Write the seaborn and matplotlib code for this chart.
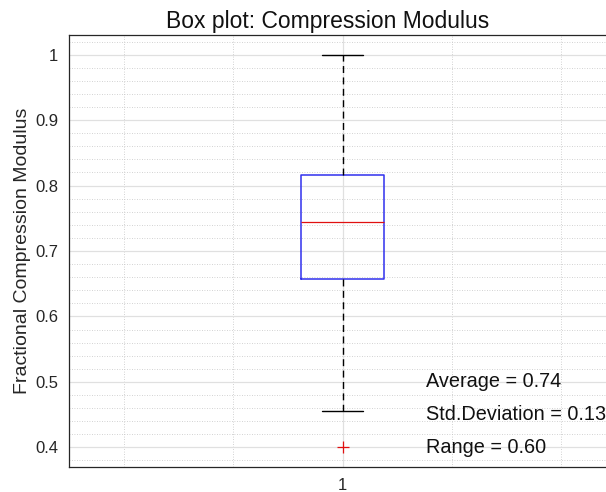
import numpy as np
import pandas as pd
import matplotlib
matplotlib.use("Agg")
import matplotlib.pyplot as plt
from matplotlib.ticker import MultipleLocator, FixedLocator
import seaborn as sns

# Fractional compression modulus measurements (one group)
group_labels = ["1"]
modulus = [0.400, 0.455, 0.610, 0.635, 0.645, 0.652, 0.657, 0.700, 0.715,
           0.725, 0.735, 0.742, 0.744, 0.770, 0.785, 0.795, 0.805, 0.812,
           0.816, 0.825, 0.840, 0.860, 0.870, 0.900, 1.000]
y_tick_values = [0.4, 0.5, 0.6, 0.7, 0.8, 0.9, 1.0]

df = pd.DataFrame({"group": group_labels * len(modulus), "value": modulus})

sns.set_style("white")
plt.rcParams["font.family"] = ["Liberation Sans", "DejaVu Sans"]

fig = plt.figure(figsize=(6.06, 4.92), dpi=100)
ax = fig.add_axes([69.3 / 606, 25 / 492, 546.4 / 606, 432 / 492])

sns.boxplot(
    data=df, x="group", y="value", ax=ax, fill=False, width=0.152,
    whis=1.5,
    boxprops=dict(color="#3030ee", linewidth=1.1),
    medianprops=dict(color="#e01010", linewidth=0.9),
    whiskerprops=dict(color="black", linewidth=1.0, linestyle=(0, (5, 3.2))),
    capprops=dict(color="black", linewidth=1.0),
    flierprops=dict(marker="+", markeredgecolor="#e01010", markersize=9,
                    markeredgewidth=0.9),
)

ax.set_xlim(-0.5, 0.5)
ax.set_ylim(0.37, 1.03)

ax.set_yticks(y_tick_values)
ax.set_yticklabels([f"{v:g}" for v in y_tick_values])
ax.set_xticks([0])
ax.set_xticklabels(group_labels)
ax.yaxis.set_minor_locator(MultipleLocator(0.02))
ax.xaxis.set_minor_locator(FixedLocator([-0.4, -0.2, 0.2, 0.4]))

ax.set_axisbelow(True)
ax.grid(which="major", color="#e0e0e0", linewidth=0.9, linestyle="-")
ax.grid(which="minor", color="#c4c4c4", linewidth=0.6, linestyle=(0, (1, 2)))

ax.tick_params(which="major", direction="in", length=4, width=0.8,
               colors="#262626", labelsize=12, pad=8)
ax.tick_params(which="minor", length=0)
for side in ["left", "bottom", "top"]:
    ax.spines[side].set_color("#262626")
    ax.spines[side].set_linewidth(0.9)
ax.spines["right"].set_visible(False)

ax.set_xlabel("")
ax.set_ylabel("Fractional Compression Modulus", fontsize=14, color="#262626",
              labelpad=3)
fig.text(328 / 606, 1 - 28.3 / 492, "Box plot: Compression Modulus",
         fontsize=16.5, color="#111111", ha="center", va="baseline")

# Summary statistics written on the plot
vals = np.array(modulus)
stats_lines = [
    (0.50, f"Average = {vals.mean():.2f}"),
    (0.45, f"Std.Deviation = {vals.std(ddof=1):.2f}"),
    (0.40, f"Range = {vals.max() - vals.min():.2f}"),
]
for ypos, txt in stats_lines:
    ax.text(0.153, ypos, txt, fontsize=14.3, color="#111111", va="center",
            ha="left")

fig.savefig("out.png", dpi=100)
